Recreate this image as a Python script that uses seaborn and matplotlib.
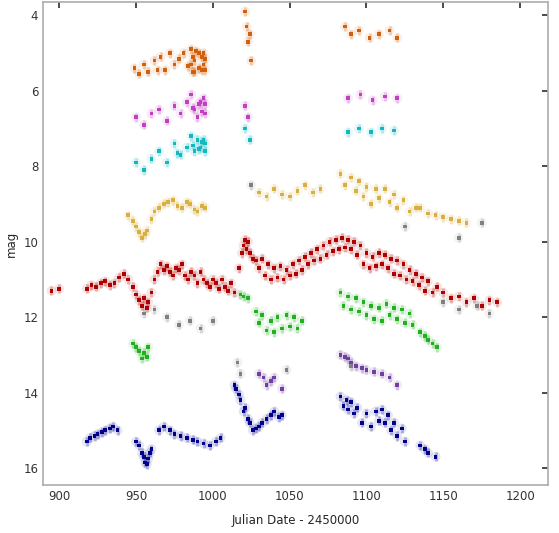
import numpy as np
import pandas as pd
import matplotlib
matplotlib.use("Agg")
import matplotlib.pyplot as plt
import seaborn as sns

# ---- data (Julian Date - 2450000, magnitude with band offsets) ----
t_orange = [949, 952, 955, 958, 962, 964, 966, 969, 972, 975, 978, 981, 984, 986, 986, 987, 987, 988, 988, 989,
            991, 991, 993, 993, 994, 994, 995, 995, 1021, 1022, 1023, 1024, 1025,
            1086, 1090, 1095, 1102, 1108, 1115, 1120]
m_orange = [5.4, 5.55, 5.3, 5.5, 5.2, 5.45, 5.1, 5.45, 5.0, 5.3, 5.15, 5.0, 5.35, 4.9, 5.3, 5.5, 5.1, 5.2, 5.5, 4.95,
            5.4, 5.0, 5.1, 5.45, 5.0, 5.3, 5.45, 5.15, 3.9, 4.3, 4.7, 4.5, 5.2,
            4.3, 4.5, 4.4, 4.6, 4.5, 4.4, 4.6]

t_magenta = [950, 955, 960, 965, 970, 975, 979, 983, 986, 987, 988, 990, 991, 992, 993, 994, 995, 995,
             1021, 1023, 1088, 1096, 1104, 1112, 1120]
m_magenta = [6.7, 6.9, 6.6, 6.5, 6.8, 6.4, 6.6, 6.3, 6.1, 6.45, 6.5, 6.7, 6.35, 6.3, 6.55, 6.2, 6.6, 6.35,
             6.4, 6.7, 6.2, 6.1, 6.25, 6.15, 6.2]

t_cyan = [950, 955, 960, 965, 970, 975, 977, 979, 983, 986, 987, 988, 990, 991, 992, 993, 994, 995, 995,
          1021, 1024, 1088, 1095, 1103, 1110, 1118]
m_cyan = [7.9, 8.1, 7.8, 7.6, 7.9, 7.4, 7.65, 7.7, 7.5, 7.2, 7.45, 7.6, 7.3, 7.55, 7.5, 7.35, 7.3, 7.6, 7.4,
          7.0, 7.3, 7.1, 7.0, 7.1, 7.0, 7.05]

t_gold = [945, 948, 950, 952, 954, 956, 957, 960, 962, 965, 968, 971, 974, 977, 980, 983, 985, 988, 990, 993, 995,
          1030, 1035, 1040, 1045, 1050, 1055, 1060, 1065, 1070,
          1083, 1086, 1090, 1093, 1095, 1098, 1100, 1103, 1106, 1108, 1112, 1115, 1118, 1120, 1124,
          1128, 1132, 1135, 1140, 1145, 1150, 1155, 1160, 1165]
m_gold = [9.3, 9.45, 9.6, 9.75, 9.9, 9.8, 9.7, 9.4, 9.2, 9.1, 9.0, 8.95, 8.9, 9.05, 9.1, 8.95, 9.0, 9.15, 9.2, 9.05, 9.1,
          8.7, 8.8, 8.6, 8.75, 8.8, 8.65, 8.5, 8.7, 8.6,
          8.2, 8.5, 8.3, 8.65, 8.4, 8.8, 8.55, 9.0, 8.6, 8.85, 8.6, 8.95, 8.75, 9.1, 8.9,
          9.2, 9.1, 9.1, 9.25, 9.3, 9.35, 9.4, 9.45, 9.5]

t_red = [895, 900, 918, 921, 924, 927, 930, 933, 936, 939, 942, 945, 948, 950, 952, 954, 955, 957, 958, 960,
         962, 964, 966, 968, 970, 972, 974, 976, 978, 980, 982, 984, 986, 988, 990, 992, 994, 996, 998, 1000,
         1002, 1004, 1006, 1008, 1010, 1012, 1014, 1017, 1019, 1020, 1021, 1022, 1023, 1024, 1026, 1028, 1030,
         1032, 1034, 1036, 1038, 1040, 1042, 1044, 1046, 1048, 1050, 1052, 1054, 1056, 1058, 1060, 1062, 1064,
         1066, 1068, 1070, 1072, 1074, 1076, 1078, 1080, 1082, 1084, 1086, 1088, 1090, 1092, 1094, 1096, 1098,
         1100, 1102, 1104, 1106, 1108, 1110, 1112, 1114, 1116, 1118, 1120, 1122, 1124, 1126, 1128, 1130, 1132,
         1134, 1136, 1138, 1140, 1143, 1146, 1150, 1155, 1160, 1165, 1170, 1175, 1180, 1185]
m_red = [11.3, 11.25, 11.25, 11.15, 11.2, 11.1, 11.05, 11.15, 11.1, 10.95, 10.85, 11.0, 11.2, 11.4, 11.55, 11.7, 11.5, 11.75, 11.6, 11.35,
         11.0, 10.8, 10.6, 10.75, 10.65, 10.8, 10.9, 10.7, 10.75, 10.6, 10.9, 11.0, 10.8, 10.9, 11.1, 10.8, 11.0, 11.1, 11.2, 11.0,
         11.1, 11.25, 11.0, 11.2, 11.3, 11.1, 11.35, 10.7, 10.3, 10.1, 9.95, 10.2, 10.0, 10.3, 10.45, 10.5, 10.7,
         10.45, 10.9, 10.6, 11.0, 10.7, 10.95, 10.65, 11.0, 10.75, 10.9, 10.6, 10.85, 10.5, 10.75, 10.4, 10.6, 10.3,
         10.5, 10.2, 10.45, 10.1, 10.35, 10.0, 10.25, 9.95, 10.2, 9.9, 10.15, 9.95, 10.2, 10.0, 10.35, 10.1, 10.6,
         10.3, 10.7, 10.4, 10.65, 10.3, 10.6, 10.35, 10.7, 10.45, 10.85, 10.5, 10.9, 10.6, 11.0, 10.75, 11.05, 10.85,
         11.15, 10.95, 11.3, 11.05, 11.35, 11.2, 11.35, 11.5, 11.45, 11.6, 11.5, 11.7, 11.55, 11.6]

t_green = [948, 950, 952, 954, 955, 957, 958, 1018, 1020, 1023, 1028, 1030, 1032, 1035, 1038, 1040, 1042, 1045,
           1048, 1050, 1053, 1055, 1058,
           1083, 1085, 1088, 1090, 1093, 1095, 1098, 1100, 1103, 1105, 1108, 1110, 1113, 1115, 1118, 1120,
           1123, 1125, 1128, 1130, 1135, 1138, 1140, 1143, 1146]
m_green = [12.7, 12.8, 12.9, 13.1, 12.95, 13.05, 12.8, 11.4, 11.45, 11.5, 11.85, 12.15, 11.95, 12.35, 12.1, 12.4, 12.0, 12.3,
           11.95, 12.25, 12.0, 12.3, 12.1,
           11.35, 11.7, 11.45, 11.8, 11.5, 11.85, 11.6, 11.95, 11.7, 12.05, 11.75, 12.1, 11.65, 11.95, 11.75, 12.05,
           11.8, 12.15, 11.9, 12.2, 12.4, 12.5, 12.6, 12.7, 12.8]

t_gray = [955, 962, 970, 978, 985, 992, 1000, 1150, 1160, 1172, 1180, 1016, 1018, 1025, 1048, 1090, 1125, 1160, 1175]
m_gray = [11.9, 11.8, 12.0, 12.2, 12.1, 12.3, 12.1, 11.6, 11.8, 11.7, 11.9, 13.2, 13.5, 8.5, 13.4, 13.3, 9.6, 9.9, 9.5]

t_purple = [1030, 1033, 1035, 1038, 1040, 1045, 1083, 1086, 1088, 1090, 1093, 1097, 1100, 1105, 1110, 1115, 1120]
m_purple = [13.5, 13.6, 13.8, 13.7, 13.6, 13.9, 13.0, 13.05, 13.1, 13.2, 13.3, 13.35, 13.4, 13.45, 13.5, 13.6, 13.8]

t_blue = [918, 920, 923, 925, 928, 930, 933, 935, 938, 950, 952, 954, 955, 956, 957, 958, 959, 960,
          965, 968, 972, 975, 979, 983, 987, 990, 994, 998, 1002, 1005,
          1014, 1015, 1017, 1018, 1020, 1021, 1023, 1024, 1026, 1028, 1030, 1032, 1035, 1038, 1040, 1043, 1045,
          1083, 1085, 1087, 1088, 1090, 1092, 1094, 1097, 1100, 1103, 1106, 1108, 1110, 1112, 1114, 1116,
          1118, 1120, 1123, 1125, 1135, 1138, 1140, 1145]
m_blue = [15.3, 15.2, 15.15, 15.1, 15.05, 15.0, 14.95, 14.9, 15.0, 15.3, 15.4, 15.6, 15.7, 15.85, 15.9, 15.75, 15.6, 15.5,
          15.0, 14.9, 15.0, 15.1, 15.15, 15.2, 15.25, 15.3, 15.35, 15.4, 15.3, 15.2,
          13.8, 13.9, 14.05, 14.2, 14.5, 14.4, 14.7, 14.8, 15.0, 14.95, 14.9, 14.8, 14.7, 14.6, 14.5, 14.65, 14.6,
          14.1, 14.35, 14.2, 14.45, 14.25, 14.55, 14.4, 14.8, 14.55, 14.9, 14.5, 14.75, 14.45, 14.8, 14.6, 15.0,
          14.8, 15.15, 14.95, 15.3, 15.4, 15.5, 15.6, 15.7]

x_ticks = [900, 950, 1000, 1050, 1100, 1150, 1200]
y_ticks = [4, 6, 8, 10, 12, 14, 16]

series = {
    "orange": (t_orange, m_orange),
    "magenta": (t_magenta, m_magenta),
    "cyan": (t_cyan, m_cyan),
    "gold": (t_gold, m_gold),
    "red": (t_red, m_red),
    "green": (t_green, m_green),
    "gray": (t_gray, m_gray),
    "purple": (t_purple, m_purple),
    "blue": (t_blue, m_blue),
}
frames = [pd.DataFrame({"jd": t, "mag": m, "band": k}) for k, (t, m) in series.items()]
df = pd.concat(frames, ignore_index=True)

palette = {
    "orange": "#d2600a",
    "magenta": "#c040c0",
    "cyan": "#10b8c0",
    "gold": "#d8b040",
    "red": "#b00000",
    "green": "#20b020",
    "gray": "#808080",
    "purple": "#7040a0",
    "blue": "#00008c",
}

sns.set_theme(style="white")
plt.rcParams['font.family'] = ['DejaVu Sans']
fig = plt.figure(figsize=(5.59, 5.33), dpi=100)
ax = fig.add_axes([0.077, 0.09, 0.903, 0.906])

# vertical error-bar-like halos
for band, (t, m) in series.items():
    ax.errorbar(t, m, yerr=0.12, fmt="none", ecolor=palette[band], elinewidth=2.0, alpha=0.25, zorder=1)

sns.scatterplot(data=df, x="jd", y="mag", hue="band", palette=palette, s=50, alpha=0.10,
                edgecolor="none", legend=False, ax=ax, zorder=1)
sns.scatterplot(data=df, x="jd", y="mag", hue="band", palette=palette, s=7, marker="s",
                edgecolor="none", legend=False, ax=ax, zorder=2)

ax.set_xlim(889.5, 1218)
ax.set_ylim(16.45, 3.65)
ax.set_xticks(x_ticks)
ax.set_yticks(y_ticks)
ax.tick_params(direction="in", top=True, right=True, length=4, labelsize=8.5, colors="#333333")
for s in ax.spines.values():
    s.set_color("#b0b0b0")
ax.set_xlabel("Julian Date - 2450000", fontsize=8.5)
ax.xaxis.set_label_coords(0.5, -0.06)
ax.set_ylabel("mag", fontsize=8.5)
fig.savefig("out.png", dpi=100)
